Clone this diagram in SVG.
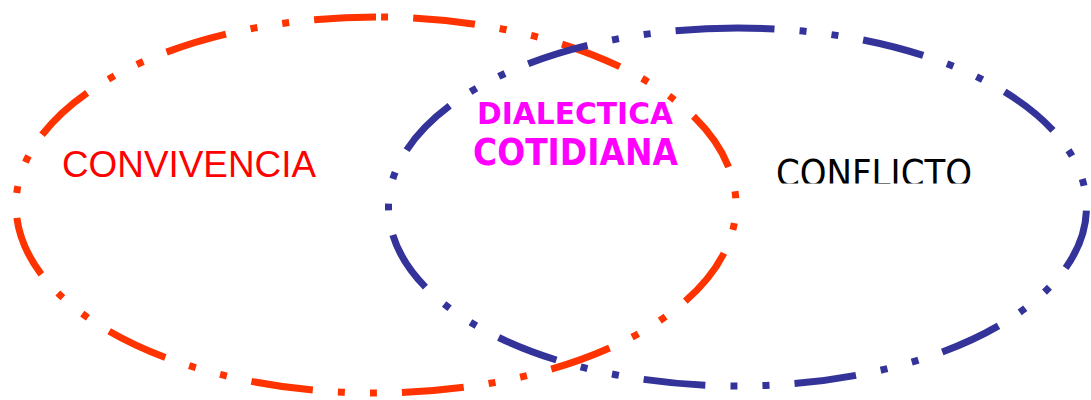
<svg xmlns="http://www.w3.org/2000/svg" width="1091" height="400" viewBox="0 0 1091 400">
<defs>
<style>
.ring{fill:none;stroke-width:7;stroke-dasharray:62 25.1 7 25.1 7 25.1;stroke-dashoffset:0;stroke-linecap:butt}
.red{stroke:#FF3300}
.blue{stroke:#333399}
</style>
<clipPath id="cl"><rect x="700" y="120" width="330" height="63.5"/></clipPath>
</defs>
<rect width="1091" height="400" fill="#fff"/>
<g id="convivencia">
<path class="ring red" d="M 376 17 A 360 188 0 0 0 376 393 A 360 188 0 0 0 376 17"/>
<text x="62" y="177" font-family="Liberation Sans, Arial, sans-serif" font-size="37" fill="#FF0000" textLength="254" lengthAdjust="spacingAndGlyphs">CONVIVENCIA</text>
</g>
<g id="conflicto">
<path class="ring blue" d="M 737.5 28 A 349 179 0 0 0 737.5 386 A 349 179 0 0 0 737.5 28"/>
<text x="776" y="186" font-family="DejaVu Sans, sans-serif" font-size="38" fill="#000" textLength="196" lengthAdjust="spacingAndGlyphs" clip-path="url(#cl)">CONFLICTO</text>
</g>
<g id="dialectica">
<text x="477" y="124" font-family="DejaVu Sans, sans-serif" font-weight="bold" font-size="30" fill="#FF00FF" textLength="196" lengthAdjust="spacingAndGlyphs">DIALECTICA</text>
<text x="473" y="165" font-family="DejaVu Sans, sans-serif" font-weight="bold" font-size="37" fill="#FF00FF" textLength="205" lengthAdjust="spacingAndGlyphs">COTIDIANA</text>
</g>
</svg>
